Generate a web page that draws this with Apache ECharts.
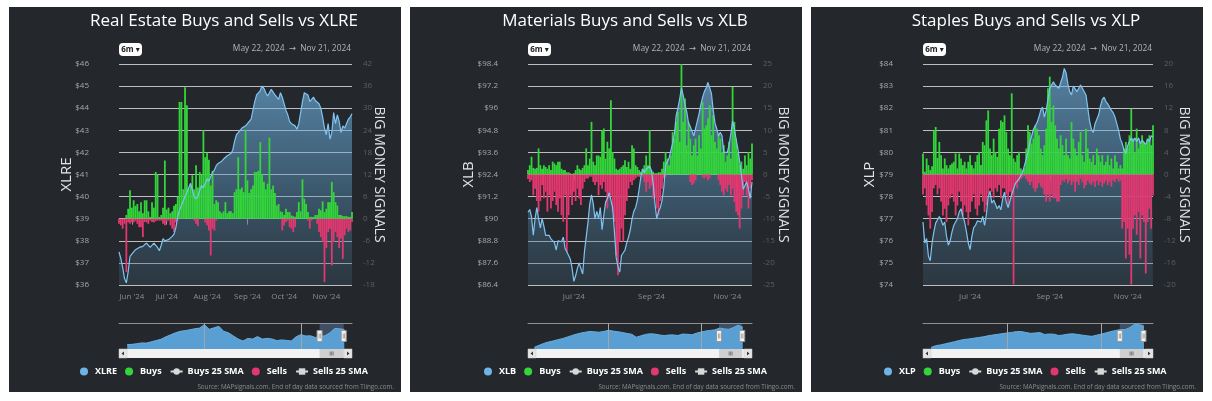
<!DOCTYPE html>
<html><head><meta charset="utf-8">
<script src="https://cdn.jsdelivr.net/npm/echarts@6/dist/echarts.min.js"></script>
<style>
html,body{margin:0;padding:0;background:#fff;width:1212px;height:401px;overflow:hidden}
.panel{position:absolute;top:7px;width:392px;height:385px;background:#24282c}
</style></head><body>
<div id="p1" class="panel" style="left:9px"></div>
<div id="p2" class="panel" style="left:410px"></div>
<div id="p3" class="panel" style="left:811px"></div>
<script>
// ---------- categories ----------
const MONTHS = ['Jan','Feb','Mar','Apr','May','Jun','Jul','Aug','Sep','Oct','Nov','Dec'];
const HOLIDAYS = ['2024-05-27','2024-06-19','2024-07-04','2024-09-02'];
const START_DATE = '2024-05-22', END_DATE = '2024-11-21';
const RANGE_TEXT = 'May 22, 2024  \u2192  Nov 21, 2024';
const SOURCE_TEXT = 'Source: MAPsignals.com. End of day data sourced from Tiingo.com.';

// ---------- XLRE / Real Estate ----------
const price1 = [37.5,37.2,36.8,36.3,36.1,36.6,37.3,37.4,37.5,37.6,
37.55,37.7,37.65,37.75,37.8,37.9,37.85,37.7,37.75,37.9,
37.95,37.7,37.55,37.8,38.1,38.0,37.95,38.05,38.1,38.2,
38.3,38.6,39.1,39.4,39.6,39.8,40.0,40.2,40.4,40.6,
40.3,40.0,39.9,40.0,40.3,40.5,40.4,40.6,40.8,40.7,
40.9,41.1,41.2,41.4,41.5,41.45,41.6,41.7,41.75,41.85,
41.9,41.95,42.1,42.5,42.8,42.9,43.0,43.1,43.15,43.2,
43.3,43.35,43.5,43.9,44.3,44.6,44.6,44.8,45.0,44.9,
44.7,44.55,44.6,44.85,44.8,44.6,44.5,44.4,44.7,44.5,
44.2,43.9,43.7,43.4,43.3,43.35,43.2,43.05,43.3,43.8,
44.3,44.7,44.75,44.6,44.3,44.4,44.5,44.35,44.4,44.2,
44.0,43.6,43.1,42.8,43.3,42.6,42.9,43.8,43.3,43.7,
43.4,42.9,43.2,43.1,43.3,43.5,43.6,43.75];
const buys1 = [0,0,0,0,1,2.7,7.7,3,5,3.5,
4,2,4.5,1.5,5,5,2,0.5,4.5,3,
12.7,12,0.5,1,3,15.8,2.5,3,1.5,2,
3.5,4,6,31.7,31.7,8,35.7,30.8,8,9,
11.8,8,14.5,8.5,12.7,12,24,16.7,18,16,
9,13,4,5,4.5,2,1.5,2,4.5,1.5,
2,2,1.5,7.2,8,16.7,8,8.5,7.2,24,
10.4,7,8,9,12.7,12.7,13,20.8,12,10,
8,9.5,22,8,9,7,3.6,4,2,1.8,
1,2.7,1.8,1.8,0.9,0.7,0.5,1.8,4.5,2,
10.7,5.4,4,1.8,0.5,0.5,0.5,1,1,2.7,
2.3,4.7,1.8,2.7,4.5,4.5,10,7.2,4.5,3.6,
1,1,0.7,0.7,0.7,0.5,0.5,1.8];
const sells1 = [-1.4,-1.8,-2.7,-1.4,-14.5,-1,-1.4,-0.9,-1,-0.7,
-1.4,-2.3,-2.3,-5,-0.9,-1,-1.4,-0.5,-0.9,-1,
-0.7,-0.5,-0.5,-0.5,-1.4,-1.8,-0.7,-0.5,-1.8,-2.7,
-3.6,-1,-0.5,0,0,0,0,0,0,0,
0,-0.5,-1.4,-2,0,0,0,-1,-1.8,-3.2,
-10,-2.7,-3.2,-0.5,0,0,0,0,0,0,
0,0,0,0,0,0,0,0,0,0,
0,0,0,0,0,0,0,0,0,0,
0,0,0,0,0,0,0,0,0,-3.2,
-1.8,-0.9,-0.5,-2.3,-2.7,-3.6,-2.3,0,0,0,
0,0,0,-0.5,-2.7,-0.5,0,0,-1.4,-3.6,
-5,-6.3,-17.2,-8,-3.6,-2.7,-12.7,-6.3,-3.6,-5,
-8,-5.4,-10.9,-4.5,-2.7,-3.6,-3.2,-0.9];

// ---------- XLB / Materials ----------
const price2 = [90.35,90.5,90.1,89.1,90.0,90.6,90.0,89.5,90.0,89.6,
89.1,89.0,89.1,88.9,88.9,88.7,88.3,88.8,88.8,88.75,
89.0,88.4,88.2,88.0,87.8,87.3,86.6,86.9,87.3,87.6,
87.6,87.0,88.2,89.0,89.8,90.8,91.3,90.8,90.0,90.4,
90.0,90.6,89.4,90.2,90.9,91.1,91.4,91.5,90.6,89.3,
87.9,87.4,87.1,88.0,87.9,88.3,88.7,89.0,89.4,90.0,
90.4,90.6,91.0,91.6,92.3,92.7,92.5,92.7,92.7,92.85,
92.6,91.9,90.8,90.0,90.4,90.6,91.0,91.7,92.9,93.1,
93.3,93.4,94.1,94.6,95.6,96.0,96.5,97.1,96.7,96.2,
95.8,95.2,95.0,94.9,94.5,94.9,95.3,95.7,96.2,96.6,
96.9,97.1,97.4,97.5,96.8,95.9,95.2,94.9,94.5,94.7,
94.5,93.6,93.5,93.6,94.0,94.6,95.3,94.9,94.3,93.8,
93.1,92.4,91.6,91.8,92.0,91.6,91.1,92.0];
const buys2 = [1,2.1,4,1.5,1.3,1.5,5.9,2.1,1.3,2.1,
1.7,1.3,2.1,1,2.9,2.5,2.1,2.9,2.9,1.3,
1,1,0.5,0.5,0.3,0,0.3,1,2.1,1.3,
1,1.5,2.1,5.9,2.1,3.6,11.9,2.9,2.1,4.3,
4.3,4,10,10.4,3.6,7.4,5.9,16.8,5.1,3.6,
1.3,1,1.3,1.7,2.1,3.2,1.7,2.9,1.3,6.6,
5.9,2.1,1.7,1,0.6,1.3,2.1,4.3,2.1,10,
1,0.6,0.3,0.3,0.5,0.5,1.3,2.9,5.1,3.6,
2.1,4.3,9.6,8.1,11.9,14.2,7.4,25.1,11.9,17.2,
6.6,11.9,8.1,4.3,6.6,8.1,4.3,8.9,5.9,16.4,
10.4,11.1,12.7,15.7,8.9,13.4,7.4,5.9,8.9,8.1,
5.1,6.6,2.9,4.3,7.4,3.6,19.8,11.9,8.1,5.1,
2.1,2.9,1.3,4.3,2.1,5.1,3.6,7];
const sells2 = [-1,-1.7,-1.3,-4.7,-3.2,-6,-8.4,-6,-2.4,-5.4,
-3.9,-8.4,-4.7,-7.7,-6,-3.9,-6.9,-8.4,-5.4,-9.2,
-10.7,-4.7,-17.5,-9.2,-4.7,-6.9,-3.9,-6,-3.2,-5.4,
-6.9,-3.2,-1.7,-0.9,-0.9,-0.5,-0.5,-1.7,-2.4,-1.7,
-4.7,-2.4,-3.2,-1.7,-3.9,-7.7,-5.4,-4.7,-8.4,-10.7,
-18.3,-22.8,-15.2,-12.2,-15.2,-9.2,-6,-3.2,-1.7,-2.4,
-1.3,-0.9,-0.5,-0.5,0,-0.5,-1.7,-3.9,-1.7,-3.2,
-2.4,-5.4,-5.4,-7.7,-9.2,-6,-3.2,-0.9,-0.5,0,
0,0,0,0,0,0,0,0,0,0,
0,0,-1.7,-2.4,-2,-1.3,0,0,0,-0.6,
-0.9,-0.5,-1.3,-0.9,0,0,0,0,-1.3,-2.4,
-3.9,-4.7,-3.2,-3.9,-2.4,-4.7,-3.2,-6.2,-8.4,-9.2,
-12.2,-7.7,-4.7,-1.7,-4.7,-7.7,-3.2,-1.3];

// ---------- XLP / Staples ----------
const price3 = [76.85,75.9,76.1,75.3,75.1,75.9,76.4,76.8,76.95,77.1,
76.95,76.7,76.85,76.2,75.8,76.0,76.4,76.7,76.85,77.0,
77.3,77.45,77.1,76.85,76.4,75.9,75.6,76.2,76.6,76.7,
76.9,76.95,76.85,77.1,76.7,77.2,78.0,78.25,77.7,77.85,
77.65,77.45,77.6,77.4,77.9,78.2,77.75,77.5,77.8,78.1,
78.35,78.6,78.7,78.8,78.75,79.1,79.4,79.7,80.0,80.45,
80.75,81.05,81.2,81.35,81.6,81.9,82.05,81.6,81.9,82.4,
82.9,83.05,83.2,83.05,83.1,82.9,83.15,83.4,83.8,83.6,
83.1,82.75,82.6,83.0,83.05,82.75,82.9,83.05,82.9,82.95,
82.6,82.0,81.4,81.05,80.9,81.3,81.5,81.7,82.1,82.4,
82.5,82.3,82.2,82.15,81.9,81.8,81.6,81.3,81.0,80.6,
80.4,80.1,79.95,80.3,80.5,80.65,80.5,80.65,80.5,80.65,
80.4,80.55,80.45,80.35,80.6,80.5,80.75,80.7];
const buys3 = [3.8,0.5,2.9,1.7,0.8,1.5,8,8.6,3,5.9,
3.5,1.1,2.9,1.7,1.1,1.7,2,2.3,3.8,1.1,
3.8,2.9,1.7,2.3,1.1,2.3,3.5,1.7,1.1,2.3,
3.5,4.1,1.7,5.9,5.3,9.8,11.6,4.7,3.5,6.5,
4.1,3.2,8.3,9.8,9.5,10.7,7.7,4.7,3.5,14.7,
2.9,2.3,3.5,4.1,1.1,0.8,1.1,4.7,8.9,7.7,
5.6,6.5,8.9,8.3,7.1,4.7,3.5,5.3,8.3,15.6,
17.7,9.5,12.5,8.9,6.5,4.7,7.1,5.3,3.5,6.5,
3.5,2.9,9.5,6.5,4.7,3.5,5.9,7.7,3.5,2.3,
8.3,4.7,2.9,2.3,3.5,1.7,4.7,3.5,2.3,3.5,
1.7,2.3,3.5,1.7,2.9,1.1,3.5,2.3,1.1,1.7,
1.1,4.7,5.9,4.7,7.1,11.9,6.5,4.1,8.3,4.7,
5.9,7.1,5.9,5.3,6.5,7.1,5.3,8.9];
const sells3 = [-3.6,-2.5,-5.6,-7.4,-9.8,-6.8,-2.5,-1.9,-3.6,-2.5,
-4.9,-7.4,-6.2,-8.6,-5.6,-4.3,-3.6,-4.9,-7.4,-5.6,
-3.1,-4.9,-7.4,-5.6,-6.8,-9.2,-6.8,-4.9,-3.6,-6.2,
-7.4,-5.6,-3.6,-4.9,-6.8,-5.6,-3.6,-2.5,-3.1,-4.3,
-2.5,-3.1,-1.9,-4.3,-2.5,-2.5,-3.6,-5.6,-3.1,-3.6,
-19.9,-1.9,-2.5,-1.3,-0.8,-0.5,-0.3,-0.8,-1.3,-1.9,
-1.3,-2.5,-3.1,-2.5,-1.6,-2.2,-2.5,-3.6,-4.9,-3.6,
-4.9,-3.6,-4.3,-4.3,-4.9,-4.9,-1.9,-1.1,-1.3,-0.8,
-1.6,-1.1,-1.9,-1.3,-3.1,-1.3,-1.9,-0.8,-1.3,-2.5,
-1.9,-1.1,-1.6,-1.9,-1.3,-2.2,-1.1,-1.9,-1.3,-2.2,
-1.6,-1.1,-1.9,-1.3,-2.2,-1.1,-1.3,-0.8,-1.3,-1.1,
-9.8,-8.6,-15.2,-9.8,-14.5,-19.9,-9.8,-7.4,-10.9,-6.8,
-15.2,-7.4,-8.6,-17.9,-8.6,-6.2,-9.8,-3.8];

// ---------- navigator (long history, decimal years) ----------
const navYears = [2020.4,2020.5,2020.6,2020.7,2020.8,2020.9,2021.0,2021.1,2021.2,2021.3,
2021.4,2021.5,2021.6,2021.7,2021.8,2021.9,2022.0,2022.1,2022.2,2022.3,
2022.4,2022.5,2022.6,2022.7,2022.8,2022.9,2023.0,2023.1,2023.2,2023.3,
2023.4,2023.5,2023.6,2023.7,2023.8,2023.9,2024.0,2024.1,2024.2,2024.3,
2024.4,2024.5,2024.6,2024.7,2024.8,2024.9];
const nav1 = [30.0,30.2,30.8,31.5,31.4,32.5,33.6,34.8,37.0,38.8,
40.6,42.0,42.6,43.4,44.3,44.9,48.0,43.8,45.1,46.5,
42.0,40.6,37.8,35.0,33.2,35.6,35.0,37.2,35.0,35.6,
35.1,33.6,34.2,33.8,33.2,37.0,39.0,37.8,37.9,36.4,
37.3,37.9,40.6,44.5,44.3,43.7];
const nav2 = [50.0,54.0,58.0,60.8,63.0,65.6,68.0,71.0,74.3,77.2,
79.6,81.6,83.0,82.2,81.5,83.2,85.5,83.8,82.5,80.9,
78.8,77.2,71.0,73.8,76.9,78.1,77.5,75.8,74.3,75.6,
75.8,74.5,77.6,77.2,76.0,79.4,81.8,84.0,85.3,86.4,
90.3,88.5,87.6,91.5,96.2,92.0];
const nav3 = [56.0,58.1,59.0,60.2,61.5,62.8,64.2,65.3,65.9,66.8,
67.6,68.4,69.6,70.5,71.3,72.1,72.9,73.6,74.5,74.6,
73.6,72.5,72.9,73.4,71.2,71.7,71.5,69.9,70.7,71.6,
71.9,71.2,70.4,69.6,69.0,70.4,71.6,73.1,74.6,75.9,
76.9,76.8,79.2,83.0,82.6,80.7];
const navYearMarks = [2022, 2024];
const selStart = 2024.388, selEnd = 2024.888;

// ---------- helpers ----------
function tradingDays(start, end) {
  const out = []; const d = new Date(start + 'T12:00:00Z'); const e = new Date(end + 'T12:00:00Z');
  while (d <= e) {
    const wd = d.getUTCDay(); const s = d.toISOString().slice(0, 10);
    if (wd !== 0 && wd !== 6 && !HOLIDAYS.includes(s)) out.push(s);
    d.setUTCDate(d.getUTCDate() + 1);
  }
  return out;
}
const dates = tradingDays(START_DATE, END_DATE);
function monthStartFn(months) {
  return function (i) {
    if (i === 0) return false;
    const m = +dates[i].slice(5, 7), pm = +dates[i - 1].slice(5, 7);
    return m !== pm && months.indexOf(m) >= 0;
  };
}
const FONT = '"Open Sans", "DejaVu Sans", sans-serif';

const panels = [
  {el:'p1', title:'Real Estate Buys and Sells vs XLRE', ticker:'XLRE', price:price1, buys:buys1, sells:sells1,
   gl:110, gr:49, pMin:36, pMax:46, pInt:1, sMin:-18, sMax:42, sInt:6, months:[6,7,8,9,10,11],
   nav:nav1, navMin:2020.23, navMax:2025.06, navYMin:26, navYMax:49.5, legendLeft:66, lGap:45, rGap:20},
  {el:'p2', title:'Materials Buys and Sells vs XLB', ticker:'XLB', price:price2, buys:buys2, sells:sells2,
   gl:118, gr:50, pMin:86.4, pMax:98.4, pInt:1.2, sMin:-25, sMax:25, sInt:5, months:[7,9,11],
   nav:nav2, navMin:2020.26, navMax:2025.10, navYMin:46.2, navYMax:100.85, legendLeft:69, lGap:52, rGap:24},
  {el:'p3', title:'Staples Buys and Sells vs XLP', ticker:'XLP', price:price3, buys:buys3, sells:sells3,
   gl:112, gr:50, pMin:74, pMax:84, pInt:1, sMin:-20, sMax:20, sInt:4, months:[7,9,11],
   nav:nav3, navMin:2020.23, navMax:2025.09, navYMin:54.2, navYMax:84.6, legendLeft:68, lGap:46, rGap:24}
];

function txt(x, y, text, font, fill, align, valign) {
  return {type:'text', x:x, y:y, silent:true, z:50,
    style:{text:text, font:font, fill:fill, align:align, verticalAlign:valign, textAlign:align, textVerticalAlign:valign}};
}

panels.forEach(function (c) {
  const chart = echarts.init(document.getElementById(c.el), null, {renderer:'canvas'});
  const W = 392, gridTop = 57, gridH = 221, navTop = 316, navH = 26;
  const labelFn = monthStartFn(c.months);
  const areaGrad = new echarts.graphic.LinearGradient(0, 0, 0, 1, [
    {offset:0, color:'rgba(118,190,242,0.85)'},
    {offset:0.5, color:'rgba(94,155,199,0.62)'},
    {offset:1, color:'rgba(60,89,111,0.45)'}]);
  const option = {
    animation:false,
    backgroundColor:'#24282c',
    textStyle:{fontFamily:FONT},
    grid:[
      {left:c.gl, right:c.gr, top:gridTop, height:gridH},
      {left:c.gl, right:c.gr, top:navTop, height:navH}
    ],
    legend:{
      left:c.legendLeft, top:355, width:340, itemWidth:12, itemHeight:8, itemGap:8, selectedMode:false,
      textStyle:{color:'#ffffff', fontWeight:'bold', fontSize:9, fontFamily:FONT},
      data:[
        {name:c.ticker, icon:'circle', itemStyle:{color:'#6cb4e6'}},
        {name:'Buys', icon:'circle'},
        {name:'Buys 25 SMA'},
        {name:'Sells', icon:'circle'},
        {name:'Sells 25 SMA'}
      ]
    },
    xAxis:[
      {type:'category', gridIndex:0, data:dates, boundaryGap:false,
       axisLine:{show:false},
       axisTick:{show:true, interval:labelFn, length:6, lineStyle:{color:'#9a9a9a'}},
       axisLabel:{interval:labelFn, color:'#8c8c8c', fontSize:8, margin:8,
         formatter:function (v) { return MONTHS[+v.slice(5, 7) - 1] + " '" + v.slice(2, 4); }},
       splitLine:{show:false}},
      {type:'value', gridIndex:1, min:c.navMin, max:c.navMax, position:'top',
       axisLine:{show:true, onZero:false, lineStyle:{color:'#8f8f8f', width:1}},
       axisTick:{show:false}, axisLabel:{show:false}, splitLine:{show:false}}
    ],
    yAxis:[
      {type:'value', gridIndex:0, min:c.pMin, max:c.pMax, interval:c.pInt, position:'left',
       name:c.ticker, nameLocation:'middle', nameGap:c.lGap, nameMoveOverlap:false,
       nameTextStyle:{color:'#e4e4e4', fontSize:15, fontFamily:FONT},
       axisLine:{show:false}, axisTick:{show:false},
       axisLabel:{color:'#a8a8a8', fontSize:8, margin:30,
         formatter:function (v) { return '$' + (+v.toFixed(1)); }},
       splitLine:{show:true, lineStyle:{color:'#bdbdbd', width:1}}},
      {type:'value', gridIndex:0, min:c.sMin, max:c.sMax, interval:c.sInt, position:'right',
       name:'BIG MONEY SIGNALS', nameLocation:'middle', nameGap:c.rGap, nameRotate:-90, nameMoveOverlap:false,
       nameTextStyle:{color:'#e4e4e4', fontSize:14, fontFamily:FONT},
       axisLine:{show:false}, axisTick:{show:false},
       axisLabel:{color:'#5e5e5e', fontSize:8, margin:11},
       splitLine:{show:false}},
      {type:'value', gridIndex:1, min:c.navYMin, max:c.navYMax, show:false, splitLine:{show:false}}
    ],
    series:[
      {name:c.ticker, type:'line', xAxisIndex:0, yAxisIndex:0, data:c.price, symbol:'none',
       lineStyle:{width:0, opacity:0}, areaStyle:{color:areaGrad, origin:'start'}, z:1, silent:true},
      {name:'Buys', type:'bar', xAxisIndex:0, yAxisIndex:1, data:c.buys, barWidth:1.8, barGap:'-100%',
       itemStyle:{color:'#33d63a'}, z:2, silent:true},
      {name:'Sells', type:'bar', xAxisIndex:0, yAxisIndex:1, data:c.sells, barWidth:1.8, barGap:'-100%',
       itemStyle:{color:'#e2376f'}, z:2, silent:true},
      {name:c.ticker, type:'line', xAxisIndex:0, yAxisIndex:0, data:c.price, symbol:'none',
       lineStyle:{color:'#80c3f0', width:1.2}, z:3, silent:true},
      {name:'Buys 25 SMA', type:'line', xAxisIndex:0, yAxisIndex:1, data:[], symbol:'circle', symbolSize:5,
       itemStyle:{color:'#d8d8d8'}, lineStyle:{color:'#d8d8d8', width:1}},
      {name:'Sells 25 SMA', type:'line', xAxisIndex:0, yAxisIndex:1, data:[], symbol:'rect', symbolSize:6,
       itemStyle:{color:'#d8d8d8'}, lineStyle:{color:'#d8d8d8', width:1}},
      {name:'nav', type:'line', xAxisIndex:1, yAxisIndex:2, symbol:'none', silent:true,
       data:navYears.map(function (y, i) { return [y, c.nav[i]]; }),
       lineStyle:{color:'#66aee0', width:1}, areaStyle:{color:'#5a9fd3', opacity:1, origin:'start'},
       markLine:{silent:true, symbol:'none', label:{show:false},
         lineStyle:{color:'#a5a5a5', width:1, type:'solid'},
         data:navYearMarks.map(function (y) { return {xAxis:y}; })},
       markArea:{silent:true, itemStyle:{color:'rgba(120,160,215,0.32)'},
         data:[[{xAxis:selStart}, {xAxis:selEnd}]]}}
    ]
  };
  chart.setOption(option);

  // chrome positioned through the library's own scales
  const xL = chart.convertToPixel({xAxisIndex:1}, selStart);
  const xR = chart.convertToPixel({xAxisIndex:1}, selEnd);
  const gx0 = c.gl, gx1 = W - c.gr, sbY = navTop + navH, sbH = 9;
  const hy = navTop + navH / 2;
  const g = [];
  g.push(txt(215, 14, c.title, '17px ' + FONT, '#ffffff', 'center', 'middle'));
  g.push({type:'rect', x:gx0, y:36, shape:{width:23, height:13, r:4}, style:{fill:'#ffffff'}, silent:true, z:50});
  g.push(txt(gx0 + 11.5, 42.5, '6m \u25BE', 'bold 8px ' + FONT, '#222222', 'center', 'middle'));
  g.push(txt(gx1 - 1, 42, RANGE_TEXT, '8.4px ' + FONT, '#b4b4b4', 'right', 'middle'));
  g.push(txt(385, 380, SOURCE_TEXT, '6.3px ' + FONT, '#8a8a8a', 'right', 'middle'));
  // scrollbar
  g.push({type:'rect', x:gx0, y:sbY, shape:{width:gx1 - gx0, height:sbH}, style:{fill:'#f2f2f2'}, silent:true, z:50});
  g.push({type:'rect', x:xL, y:sbY, shape:{width:xR - xL, height:sbH}, style:{fill:'#cfcfcf'}, silent:true, z:51});
  [-1.5, 0, 1.5].forEach(function (d) {
    g.push({type:'line', shape:{x1:(xL + xR) / 2 + d, y1:sbY + 2.5, x2:(xL + xR) / 2 + d, y2:sbY + sbH - 2.5},
      style:{stroke:'#555', lineWidth:0.7}, silent:true, z:52});
  });
  g.push({type:'rect', x:gx0, y:sbY, shape:{width:8, height:sbH}, style:{fill:'#e4e4e4', stroke:'#cccccc', lineWidth:0.5}, silent:true, z:52});
  g.push({type:'rect', x:gx1 - 8, y:sbY, shape:{width:8, height:sbH}, style:{fill:'#e4e4e4', stroke:'#cccccc', lineWidth:0.5}, silent:true, z:52});
  g.push({type:'polygon', shape:{points:[[gx0 + 5, sbY + 2.5], [gx0 + 5, sbY + sbH - 2.5], [gx0 + 2.5, sbY + sbH / 2]]}, style:{fill:'#333'}, silent:true, z:53});
  g.push({type:'polygon', shape:{points:[[gx1 - 5, sbY + 2.5], [gx1 - 5, sbY + sbH - 2.5], [gx1 - 2.5, sbY + sbH / 2]]}, style:{fill:'#333'}, silent:true, z:53});
  // navigator handles
  [xL, xR].forEach(function (x) {
    g.push({type:'rect', x:x - 2.5, y:hy - 5.5, shape:{width:5, height:11}, style:{fill:'#f2f2f2', stroke:'#999999', lineWidth:1}, silent:true, z:54});
    g.push({type:'line', shape:{x1:x - 0.5, y1:hy - 2.5, x2:x - 0.5, y2:hy + 2.5}, style:{stroke:'#777', lineWidth:0.6}, silent:true, z:55});
    g.push({type:'line', shape:{x1:x + 0.8, y1:hy - 2.5, x2:x + 0.8, y2:hy + 2.5}, style:{stroke:'#777', lineWidth:0.6}, silent:true, z:55});
  });
  chart.setOption({graphic:{elements:g}});
});
</script>
</body></html>
